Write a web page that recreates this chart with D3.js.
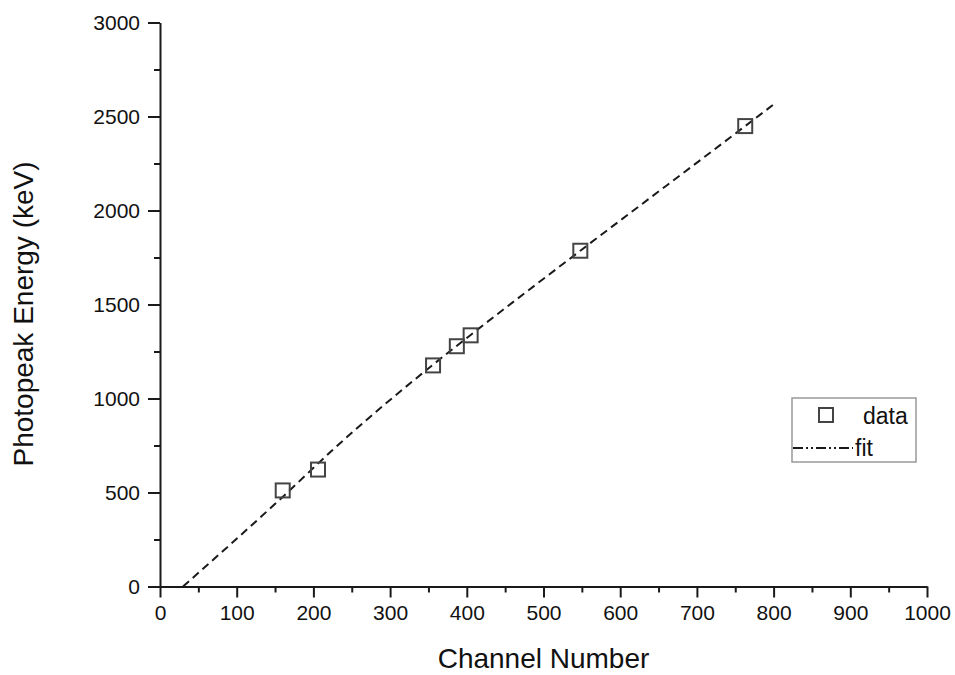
<!DOCTYPE html>
<html>
<head>
<meta charset="utf-8">
<script src="https://cdn.jsdelivr.net/npm/d3@7"></script>
<style>
  html, body { margin: 0; padding: 0; background: #fff; }
  svg { display: block; }
  text { font-family: "Liberation Sans", Arial, sans-serif; fill: #111; }
</style>
</head>
<body>
<svg id="chart" width="955" height="675"></svg>
<script>
// ---- data ----
const channels = [160, 206, 356, 387, 405, 548, 763];
const energies = [511, 622, 1176, 1278, 1336, 1786, 2449];
// fit curve
const fitChannels = [30, 164, 225, 356, 405, 548, 763, 799];
const fitEnergies = [0, 492, 726, 1180, 1338, 1786, 2449, 2561];
const xTicks = [0, 100, 200, 300, 400, 500, 600, 700, 800, 900, 1000];
const yTicks = [0, 500, 1000, 1500, 2000, 2500, 3000];
const xMinor = d3.range(50, 1000, 100);
const yMinor = d3.range(250, 3000, 500);
const xTitle = "Channel Number";
const yTitle = "Photopeak Energy (keV)";
const legendLabels = ["data", "fit"];

const svg = d3.select("#chart");
const x = d3.scaleLinear().domain([0, 1000]).range([160, 927]);
const y = d3.scaleLinear().domain([0, 3000]).range([586.5, 22.5]);

const axisColor = "#1a1a1a";

// x axis
const gx = svg.append("g").attr("transform", `translate(0,${y(0)})`);
gx.call(d3.axisBottom(x).tickValues(xTicks).tickSize(11).tickSizeOuter(0).tickPadding(8).tickFormat(d3.format("d")));
const gxm = svg.append("g").attr("transform", `translate(0,${y(0)})`);
gxm.call(d3.axisBottom(x).tickValues(xMinor).tickSize(6).tickFormat(""));
gxm.select(".domain").remove();

// y axis
const gy = svg.append("g").attr("transform", `translate(${x(0)},0)`);
gy.call(d3.axisLeft(y).tickValues(yTicks).tickSize(12).tickSizeOuter(0).tickPadding(8).tickFormat(d3.format("d")));
const gym = svg.append("g").attr("transform", `translate(${x(0)},0)`);
gym.call(d3.axisLeft(y).tickValues(yMinor).tickSize(6).tickFormat(""));
gym.select(".domain").remove();

svg.selectAll(".domain, .tick line").attr("stroke", axisColor).attr("stroke-width", 2);
svg.selectAll(".tick text").style("font-size", "21px").style("font-family", '"Liberation Sans", Arial, sans-serif').attr("fill", "#111");

// axis titles
svg.append("text")
  .attr("x", (x(0) + x(1000)) / 2)
  .attr("y", 668)
  .attr("text-anchor", "middle")
  .style("font-size", "28px")
  .text(xTitle);
svg.append("text")
  .attr("transform", `translate(33,314) rotate(-90)`)
  .attr("text-anchor", "middle")
  .style("font-size", "28px")
  .text(yTitle);

// fit line
const fitData = fitChannels.map((c, i) => [c, fitEnergies[i]]);
const line = d3.line().x(d => x(d[0])).y(d => y(d[1])).curve(d3.curveMonotoneX);
svg.append("path")
  .datum(fitData)
  .attr("d", line)
  .attr("fill", "none")
  .attr("stroke", "#1a1a1a")
  .attr("stroke-width", 2)
  .attr("stroke-dasharray", "8,5");

// data markers
const sq = 14;
svg.selectAll("rect.pt")
  .data(channels.map((c, i) => [c, energies[i]]))
  .enter().append("rect")
  .attr("class", "pt")
  .attr("x", d => x(d[0]) - sq / 2)
  .attr("y", d => y(d[1]) - sq / 2)
  .attr("width", sq)
  .attr("height", sq)
  .attr("fill", "none")
  .attr("stroke", "#444")
  .attr("stroke-width", 2);

// legend
const lg = svg.append("g");
lg.append("rect")
  .attr("x", 792).attr("y", 398).attr("width", 124).attr("height", 64)
  .attr("fill", "#fff").attr("stroke", "#999").attr("stroke-width", 1.5);
lg.append("rect")
  .attr("x", 826 - sq / 2).attr("y", 415 - sq / 2).attr("width", sq).attr("height", sq)
  .attr("fill", "none").attr("stroke", "#444").attr("stroke-width", 2);
lg.append("text").attr("x", 863).attr("y", 424).style("font-size", "23px").text(legendLabels[0]);
lg.append("line")
  .attr("x1", 793).attr("x2", 853).attr("y1", 448).attr("y2", 448)
  .attr("stroke", "#1a1a1a").attr("stroke-width", 2)
  .attr("stroke-dasharray", "10,3,2,3,2,3");
lg.append("text").attr("x", 855).attr("y", 456).style("font-size", "23px").text(legendLabels[1]);
</script>
</body>
</html>
